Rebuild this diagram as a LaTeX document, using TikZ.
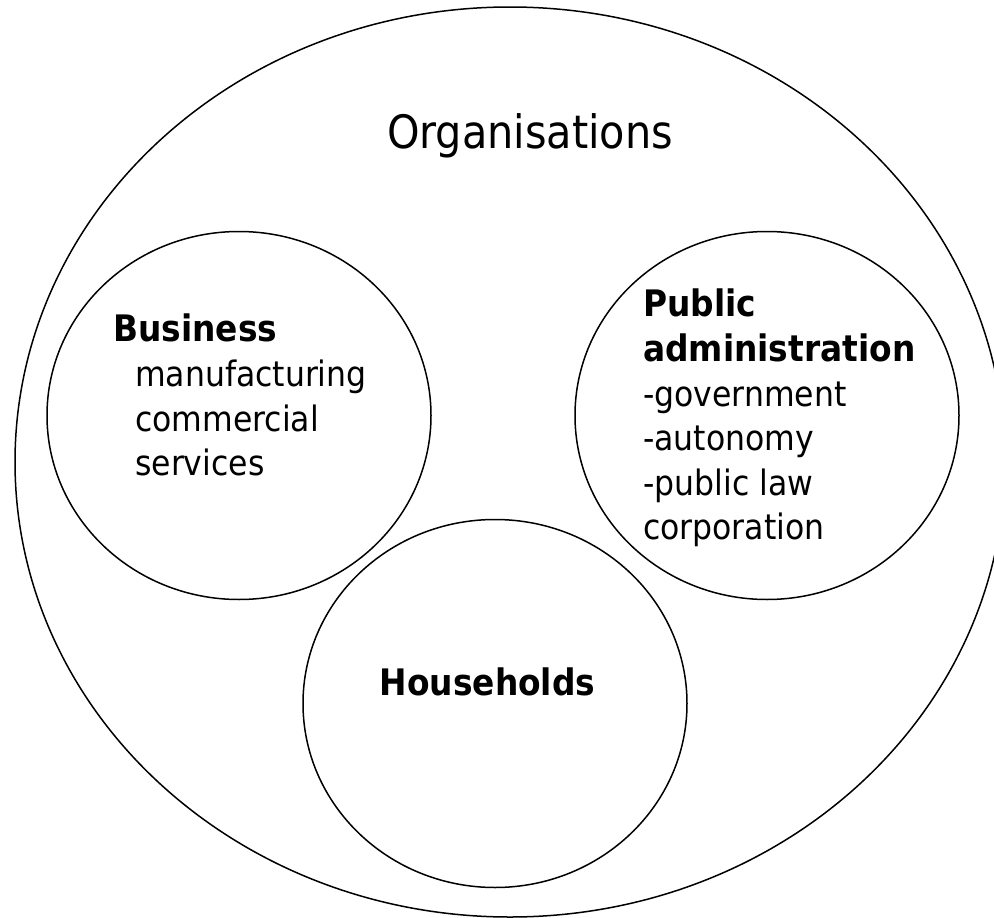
\documentclass[tikz,border=0pt]{standalone}
\usepackage{fontspec}
\setmainfont{DejaVu Sans Condensed}[BoldFont={DejaVu Sans Condensed Bold}]
\usetikzlibrary{shapes.geometric}

\newcommand{\titreb}[1]{{\fontsize{36.5}{44.6}\selectfont\bfseries #1}}

\tikzset{bulle/.style = {ellipse, draw, line width=1.5pt, inner sep=0pt,
                         minimum width=#1, minimum height=368pt},
         bulle/.default=384pt,
         txt/.style = {inner sep=0pt, align=left,
                       font=\fontsize{35}{44.6}\selectfont}
        }

\begin{document}
\begin{tikzpicture}[x=1pt, y=-1pt]
\useasboundingbox (0,0) rectangle (994,918);
\clip (0,0) rectangle (994,918);
% the four bubbles
\node[bulle=990pt, minimum height=910pt] (orgs) at (510,462) {};
\node[bulle] (business) at (239,415.5) {};
\node[bulle] (public) at (767,415.5) {};
\node[bulle] (households) at (495,703.5) {};
% their texts
\node[anchor=base, inner sep=0pt, font=\fontsize{46}{55}\selectfont] (orgs-txt) at (530,148) {Organisations};
\node[txt, anchor=north west] (business-txt) at (113,314)
  {\titreb{Business}\\
   \hspace*{22pt}manufacturing\\
   \hspace*{22pt}commercial\\
   \hspace*{22pt}services};
\node[txt, anchor=north west] (public-txt) at (643,289)
  {\titreb{Public}\\
   \titreb{administration}\\
   -government\\
   -autonomy\\
   -public law\\
   corporation};
\node[txt, anchor=base] (households-txt) at (487.5,695) {\titreb{Households}};
\end{tikzpicture}
\end{document}
